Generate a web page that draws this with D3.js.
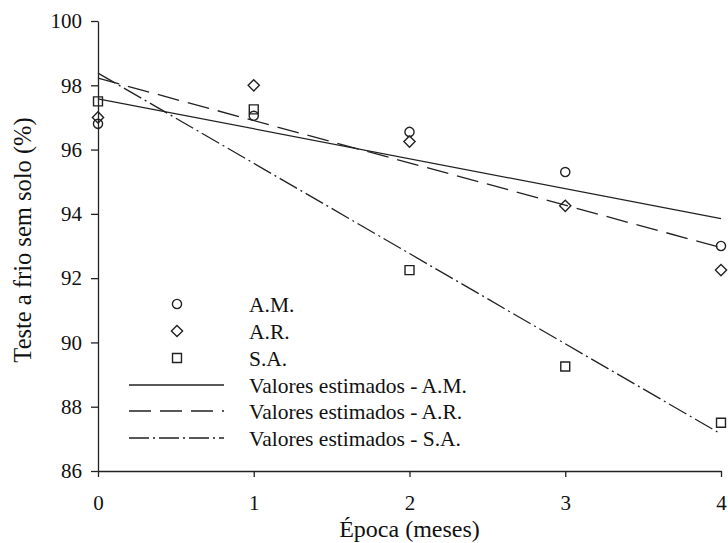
<!DOCTYPE html>
<html>
<head>
<meta charset="utf-8">
<script src="https://cdn.jsdelivr.net/npm/d3@7"></script>
<style>
  body { margin: 0; background: #fff; }
  svg text { font-family: "Liberation Serif", "Times New Roman", Times, "DejaVu Serif", serif; }
</style>
</head>
<body>
<div id="chart"></div>
<script>
// ============================
// Data
// ============================
const epocas = [0, 1, 2, 3, 4];
const am = [96.8, 97.05, 96.55, 95.3, 93.0];
const ar = [97.0, 98.0, 96.25, 94.25, 92.25];
const sa = [97.5, 97.25, 92.25, 89.25, 87.5];

// fitted lines, values at epoca 0 and 4
const estX = [0, 4];
const estAM = [97.58, 93.85];
const estAR = [98.22, 92.95];
const estSA = [98.38, 87.15];

const xTicks = [0, 1, 2, 3, 4];
const yTicks = [86, 88, 90, 92, 94, 96, 98, 100];

const legendLabels = ["A.M.", "A.R.", "S.A.",
  "Valores estimados - A.M.", "Valores estimados - A.R.", "Valores estimados - S.A."];

// ============================
// Setup
// ============================
const width = 728, height = 543;
const margin = {top: 21, right: 7, bottom: 72, left: 98};
const serif = "'Liberation Serif', 'Times New Roman', Times, 'DejaVu Serif', serif";

const svg = d3.select("#chart").append("svg")
  .attr("width", width).attr("height", height)
  .attr("font-family", serif);

const xscale = d3.scaleLinear().domain([0, 4]).range([margin.left, width - margin.right]);
const yscale = d3.scaleLinear().domain([86, 100]).range([height - margin.bottom, margin.top]);

const ink = "#222";

// fitted lines
const line = d3.line()
  .x(d => xscale(d.x))
  .y(d => yscale(d.y));

const fits = [
  {vals: estAM, dash: null},
  {vals: estAR, dash: "22,9"},
  {vals: estSA, dash: "20,4,2,4"}
];

svg.append("g")
  .attr("fill", "none")
  .attr("stroke", ink)
  .attr("stroke-width", 1.3)
  .selectAll("path")
  .data(fits)
  .join("path")
  .attr("stroke-dasharray", d => d.dash)
  .attr("d", d => line(estX.map((x, i) => ({x: x, y: d.vals[i]}))));

// point symbols
const symCircle = d3.symbol().type(d3.symbolCircle).size(66);
const symDiamond = d3.symbol().type(d3.symbolDiamond2).size(80);
const symSquare = d3.symbol().type(d3.symbolSquare).size(80);
const symbols = [symCircle, symDiamond, symSquare];

const series = [am, ar, sa];

const pts = svg.append("g")
  .attr("fill", "none")
  .attr("stroke", ink)
  .attr("stroke-width", 1.4);

series.forEach((s, k) => {
  pts.selectAll(".p" + k)
    .data(s)
    .join("path")
    .attr("class", "p" + k)
    .attr("transform", (d, i) => `translate(${xscale(epocas[i])},${yscale(d)})`)
    .attr("d", symbols[k]());
});

// ============================
// Axes
// ============================
const xAxis = svg.append("g")
  .attr("transform", `translate(0,${yscale(86)})`)
  .call(d3.axisBottom(xscale).tickValues(xTicks).tickFormat(d3.format("d"))
    .tickSize(6).tickSizeOuter(0).tickPadding(18));

const yAxis = svg.append("g")
  .attr("transform", `translate(${xscale(0)},0)`)
  .call(d3.axisLeft(yscale).tickValues(yTicks).tickFormat(d3.format("d"))
    .tickSize(7).tickSizeOuter(0).tickPadding(9));

[xAxis, yAxis].forEach(g => {
  g.attr("font-family", serif).attr("font-size", 21);
  g.select(".domain").attr("stroke", ink).attr("stroke-width", 1.3);
  g.selectAll(".tick line").attr("stroke", ink).attr("stroke-width", 1.3);
  g.selectAll(".tick text").attr("fill", "#111");
});

svg.append("text")
  .attr("x", (xscale(0) + xscale(4)) / 2)
  .attr("y", 537)
  .attr("text-anchor", "middle")
  .attr("font-size", 24)
  .attr("fill", "#111")
  .text("Época (meses)");

svg.append("text")
  .attr("transform", `translate(31,${240}) rotate(-90)`)
  .attr("text-anchor", "middle")
  .attr("font-size", 24.5)
  .attr("fill", "#111")
  .text("Teste a frio sem solo (%)");

// ============================
// Legend
// ============================
const legendY = [304, 331, 358, 385, 411, 438];
const legend = svg.append("g");

symbols.forEach((sym, k) => {
  legend.append("path")
    .attr("transform", `translate(177,${legendY[k]})`)
    .attr("d", sym())
    .attr("fill", "none")
    .attr("stroke", ink)
    .attr("stroke-width", 1.4);
});

fits.forEach((f, k) => {
  legend.append("line")
    .attr("x1", 129).attr("x2", 224)
    .attr("y1", legendY[k + 3]).attr("y2", legendY[k + 3])
    .attr("stroke", ink)
    .attr("stroke-width", 1.3)
    .attr("stroke-dasharray", f.dash);
});

legend.selectAll("text")
  .data(legendLabels)
  .join("text")
  .attr("x", 249)
  .attr("y", (d, i) => legendY[i])
  .attr("dy", "0.35em")
  .attr("font-size", 21.5)
  .attr("fill", "#111")
  .text(d => d);
</script>
</body>
</html>
